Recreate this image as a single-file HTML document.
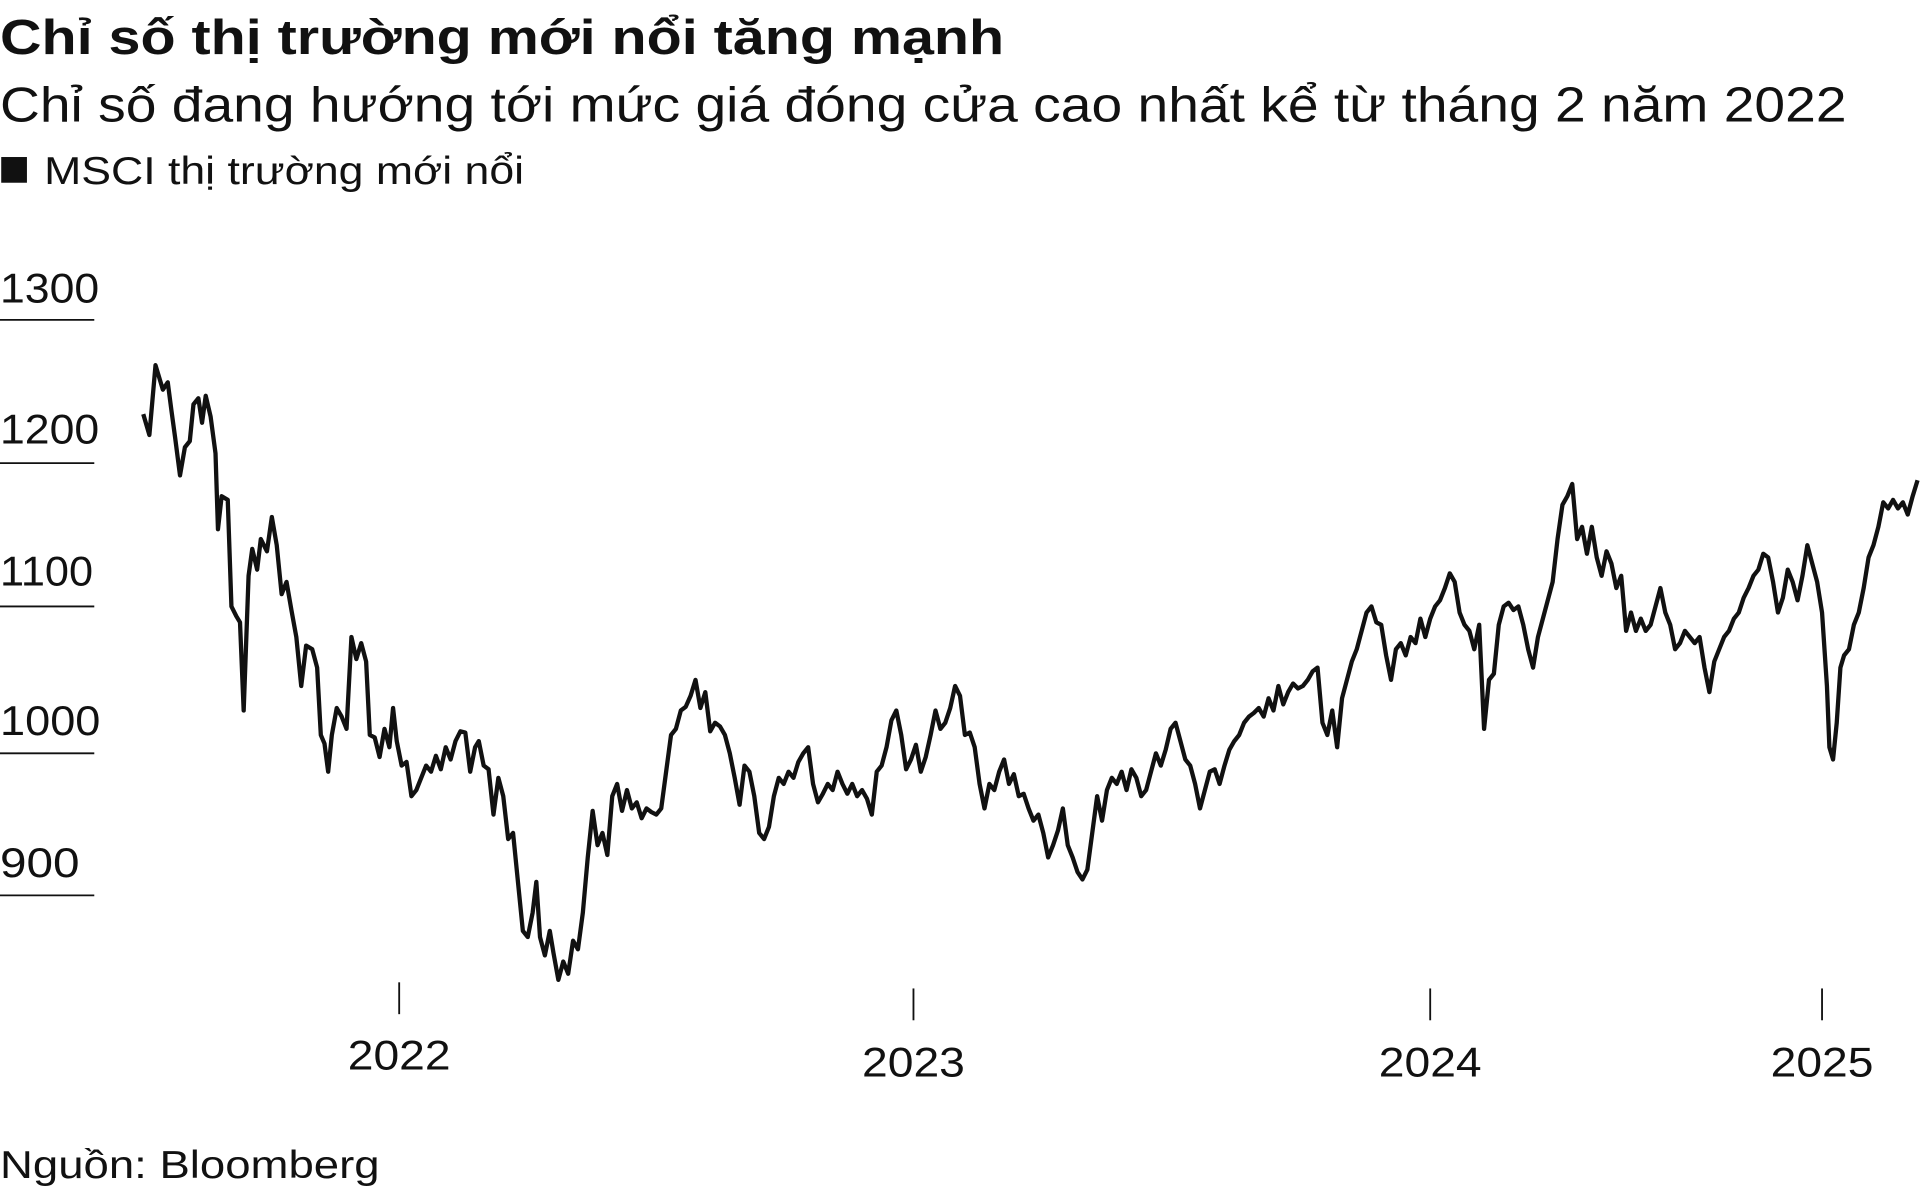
<!DOCTYPE html>
<html><head><meta charset="utf-8"><style>
html,body{margin:0;padding:0;background:#fff;}
svg{display:block;}
text{font-family:"Liberation Sans",Arial,sans-serif;fill:#111;}
</style></head><body>
<svg width="1920" height="1192" viewBox="0 0 1568 973" xmlns="http://www.w3.org/2000/svg">
<text x="0" y="44" font-size="40" font-weight="bold" textLength="820" lengthAdjust="spacingAndGlyphs">Chỉ số thị trường mới nổi tăng mạnh</text>
<text x="0" y="99" font-size="40" textLength="1508" lengthAdjust="spacingAndGlyphs">Chỉ số đang hướng tới mức giá đóng cửa cao nhất kể từ tháng 2 năm 2022</text>
<rect x="1" y="128" width="21" height="21" fill="#111"/>
<text x="36" y="150" font-size="32" textLength="392" lengthAdjust="spacingAndGlyphs">MSCI thị trường mới nổi</text>
<g font-size="34">
<text x="0" y="247" textLength="81" lengthAdjust="spacingAndGlyphs">1300</text><text x="0" y="362" textLength="81" lengthAdjust="spacingAndGlyphs">1200</text><text x="0" y="478" textLength="76" lengthAdjust="spacingAndGlyphs">1100</text><text x="0" y="600" textLength="82" lengthAdjust="spacingAndGlyphs">1000</text><text x="0" y="716" textLength="65" lengthAdjust="spacingAndGlyphs">900</text>
</g>
<g stroke="#111" stroke-width="1.5">
<line x1="0" y1="261" x2="77" y2="261"/><line x1="0" y1="378" x2="77" y2="378"/><line x1="0" y1="495" x2="77" y2="495"/><line x1="0" y1="615" x2="77" y2="615"/><line x1="0" y1="731" x2="77" y2="731"/>
<line x1="326" y1="802" x2="326" y2="828"/><line x1="746" y1="807" x2="746" y2="833"/><line x1="1168" y1="807" x2="1168" y2="833"/><line x1="1488" y1="807" x2="1488" y2="833"/>
</g>
<g font-size="34">
<text x="284" y="873" textLength="84" lengthAdjust="spacingAndGlyphs">2022</text><text x="704" y="879" textLength="84" lengthAdjust="spacingAndGlyphs">2023</text><text x="1126" y="879" textLength="84" lengthAdjust="spacingAndGlyphs">2024</text><text x="1446" y="879" textLength="84" lengthAdjust="spacingAndGlyphs">2025</text>
</g>
<text x="0" y="962" font-size="32" textLength="310" lengthAdjust="spacingAndGlyphs">Nguồn: Bloomberg</text>
<polyline fill="none" stroke="#111" stroke-width="3.5" stroke-linejoin="round" points="117,338 122,355 127,298 133,318 137,312 140,335 143,357 147,388 151,365 155,360 158,330 162,325 165,345 168,323 172,340 176,370 178,432 181,405 186,408 189,495 193,503 196,508 199,580 203,470 206,448 210,465 213,440 218,450 222,422 226,445 230,485 234,475 238,498 242,520 246,560 250,527 255,530 259,545 262,600 265,607 268,630 271,600 275,578 279,585 283,595 287,520 291,538 295,525 299,540 302,600 306,602 310,618 314,595 318,610 321,578 324,605 328,625 332,622 336,650 340,645 344,635 348,625 352,630 356,617 360,628 364,610 368,620 372,605 376,597 380,598 384,630 388,610 391,605 395,625 399,628 403,665 407,635 411,650 415,685 419,680 423,720 427,760 431,765 435,745 438,720 441,765 445,780 449,760 452,778 456,800 460,785 464,795 468,768 472,775 476,745 480,700 484,662 488,690 492,680 496,698 500,650 504,640 508,662 512,645 516,660 520,655 524,668 528,660 532,663 536,665 540,660 544,630 548,600 552,595 556,580 560,577 564,568 568,555 572,578 576,565 580,597 584,590 588,593 592,600 596,615 600,635 604,657 608,625 612,630 616,650 620,680 624,685 628,675 632,650 636,635 640,640 644,630 648,635 652,622 656,615 660,610 664,640 668,655 672,648 676,640 680,645 684,630 688,640 692,648 696,640 700,650 704,645 708,652 712,665 716,630 720,625 724,610 728,588 732,580 736,600 740,628 744,620 748,608 752,630 756,618 760,600 764,580 768,595 772,590 776,578 780,560 784,568 788,600 792,598 796,610 800,640 804,660 808,640 812,645 816,630 820,620 824,640 828,632 832,650 836,648 840,660 844,670 848,665 852,680 856,700 860,690 864,678 868,660 872,690 876,700 880,712 884,718 888,710 892,680 896,650 900,670 904,645 908,635 912,640 916,630 920,645 924,628 928,635 932,650 936,645 940,630 944,615 948,625 952,612 956,595 960,590 964,605 968,620 972,625 976,640 980,660 984,645 988,630 992,628 996,640 1000,625 1004,612 1008,605 1012,600 1016,590 1020,585 1024,582 1028,578 1032,585 1036,570 1040,580 1044,560 1048,575 1052,565 1056,558 1060,562 1064,560 1068,555 1072,548 1076,545 1080,590 1084,600 1088,580 1092,610 1096,570 1100,555 1104,540 1108,530 1112,515 1116,500 1120,495 1124,508 1128,510 1132,535 1136,555 1140,530 1144,525 1148,535 1152,520 1156,525 1160,505 1164,520 1168,505 1172,495 1176,490 1180,480 1184,468 1188,475 1192,500 1196,510 1200,515 1204,530 1208,510 1212,595 1216,555 1220,550 1224,510 1228,495 1232,492 1236,498 1240,495 1244,510 1248,530 1252,545 1256,520 1260,505 1264,490 1268,475 1272,440 1276,412 1280,405 1284,395 1288,440 1292,430 1296,452 1300,430 1304,455 1308,470 1312,450 1316,460 1320,480 1324,470 1328,515 1332,500 1336,515 1340,505 1344,515 1348,510 1352,495 1356,480 1360,500 1364,510 1368,530 1372,525 1376,515 1380,520 1384,525 1388,520 1392,545 1396,565 1400,540 1404,530 1408,520 1412,515 1416,505 1420,500 1424,488 1428,480 1432,470 1436,465 1440,452 1444,455 1448,475 1452,500 1456,488 1460,465 1464,475 1468,490 1472,470 1476,445 1480,460 1484,475 1488,500 1492,560 1494,610 1497,620 1500,590 1503,545 1506,535 1510,530 1514,510 1518,500 1522,480 1526,455 1530,445 1534,430 1538,410 1542,415 1546,408 1550,415 1554,410 1558,420 1562,405 1566,392"/>
</svg>
</body></html>
